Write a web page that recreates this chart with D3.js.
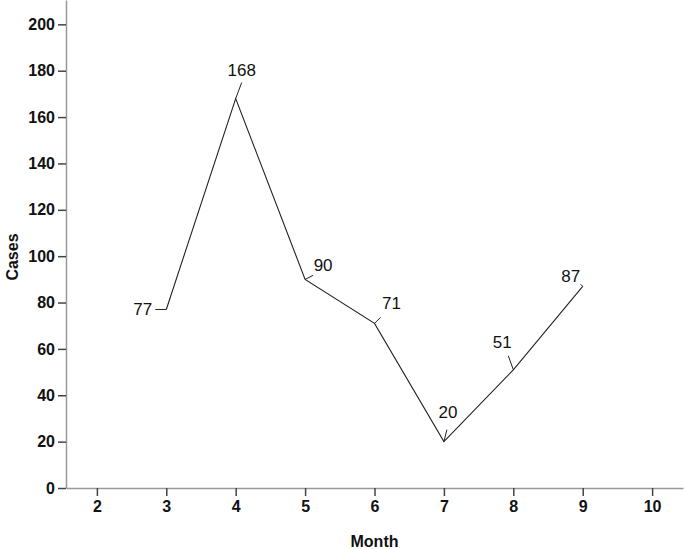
<!DOCTYPE html>
<html>
<head>
<meta charset="utf-8">
<script src="https://cdn.jsdelivr.net/npm/d3@7"></script>
<style>
  body { margin: 0; background: #fff; }
  text { font-family: "Liberation Sans", Arial, sans-serif; fill: #111; }
</style>
</head>
<body>
<div id="chart"></div>
<script>
// data
var months = [3, 4, 5, 6, 7, 8, 9];
var cases = [77, 168, 90, 71, 20, 51, 87];
var xTicks = [2, 3, 4, 5, 6, 7, 8, 9, 10];
var yTicks = [0, 20, 40, 60, 80, 100, 120, 140, 160, 180, 200];

// label placement (leader end dx,dy / text dx,dy relative to point)
var leader = [[-11, 0], [6, -16], [8, -4], [6, -6], [3, -12], [-5, -14], [-2, -2]];
var textOff = [[-14, 0], [6, -28], [18, -14], [17, -20], [4, -30], [-11, -28], [-12, -10]];
var textAnchor = ["end", "middle", "middle", "middle", "middle", "middle", "middle"];

var w = 685, h = 549;
var mLeft = 66, mRight = 683, mTop = 0, mBottom = 488;

var svg = d3.select("#chart").append("svg")
    .attr("width", w)
    .attr("height", h);

var x = d3.scaleLinear().domain([1.555, 10.445]).range([mLeft, mRight]);
var y = d3.scaleLinear().domain([0, 210.5]).range([mBottom, mTop]);

// axes
var xAxis = svg.append("g")
    .attr("transform", "translate(0," + mBottom + ")")
    .call(d3.axisBottom(x).tickValues(xTicks).tickSize(8).tickSizeOuter(0).tickPadding(5).tickFormat(d3.format("d")));
var yAxis = svg.append("g")
    .attr("transform", "translate(" + mLeft + ",0)")
    .call(d3.axisLeft(y).tickValues(yTicks).tickSize(8).tickSizeOuter(0).tickPadding(3).tickFormat(d3.format("d")));

[xAxis, yAxis].forEach(function(g) {
    g.attr("font-size", 16);
    g.select(".domain").attr("stroke", "#999").attr("stroke-width", 1.5);
    g.selectAll(".tick line").attr("stroke", "#444").attr("stroke-width", 1.5);
    g.selectAll(".tick text")
        .style("font-size", "16px")
        .attr("font-weight", "bold")
        .attr("font-family", "Liberation Sans, Arial, sans-serif")
        .attr("fill", "#111");
});

// line
var line = d3.line()
    .x(function(d, i) { return x(months[i]); })
    .y(function(d) { return y(d); });

svg.append("path")
    .datum(cases)
    .attr("d", line)
    .attr("fill", "none")
    .attr("stroke", "#222")
    .attr("stroke-width", 1.1);

// labels
var lab = svg.append("g").selectAll("g")
    .data(cases)
    .enter().append("g");

lab.append("line")
    .attr("x1", function(d, i) { return x(months[i]); })
    .attr("y1", function(d) { return y(d); })
    .attr("x2", function(d, i) { return x(months[i]) + leader[i][0]; })
    .attr("y2", function(d, i) { return y(d) + leader[i][1]; })
    .attr("stroke", "#222")
    .attr("stroke-width", 1);

lab.append("text")
    .attr("x", function(d, i) { return x(months[i]) + textOff[i][0]; })
    .attr("y", function(d, i) { return y(d) + textOff[i][1]; })
    .attr("dy", "0.35em")
    .attr("text-anchor", function(d, i) { return textAnchor[i]; })
    .attr("font-size", 17)
    .text(function(d) { return d; });

// axis titles
svg.append("text")
    .attr("x", (mLeft + mRight) / 2)
    .attr("y", 541)
    .attr("dy", "0.35em")
    .attr("text-anchor", "middle")
    .attr("font-size", 16)
    .attr("font-weight", "bold")
    .text("Month");

svg.append("text")
    .attr("transform", "translate(12," + 257 + ")rotate(-90)")
    .attr("dy", "0.35em")
    .attr("text-anchor", "middle")
    .attr("font-size", 16)
    .attr("font-weight", "bold")
    .text("Cases");
</script>
</body>
</html>
